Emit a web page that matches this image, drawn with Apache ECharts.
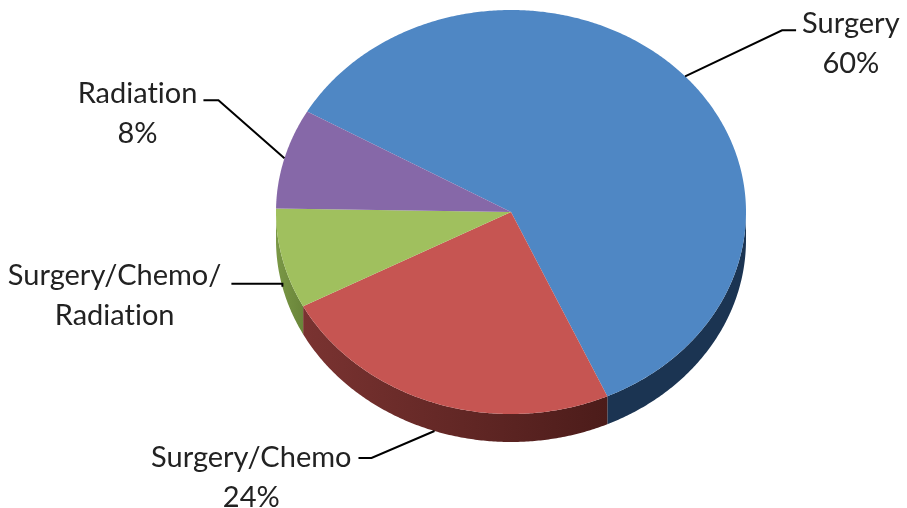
<!DOCTYPE html>
<html>
<head>
<meta charset="utf-8">
<script src="https://cdn.jsdelivr.net/npm/echarts@6/dist/echarts.min.js"></script>
<style>
  html, body { margin: 0; padding: 0; background: #fff; }
  #chart { width: 907px; height: 508px; }
</style>
</head>
<body>
<div id="chart"></div>
<script>
// data
const categories = ['Surgery', 'Surgery/Chemo', 'Surgery/Chemo/\nRadiation', 'Radiation'];
const values = [60, 24, 8, 8];
const showPercent = [true, true, false, true];

// look
const topColors = ['#4F87C4', '#C65552', '#A0C05E', '#8668A8'];
const sideColors = [['#1B3452', '#1B3452'], ['#7A3331', '#4C1C1A'], ['#7A9846', '#6A853A'], ['#5A4577', '#5A4577']];
const FONT = '29px Lato';

// geometry of the tilted pie
const cx = 511, cy = 212, rx = 235, ry = 202, depth = 28;
const startDeg = 209.8; // screen angle, clockwise

// label leaders: elbow offset from anchor, horizontal tail, gap to text, first line middle offset
const leaders = [
  { elbow: [97, -46], tail: 14, gap: 6, mid: -7 },
  { elbow: [-63, 27], tail: -13, gap: 7, mid: 0 },
  { elbow: [0, -3], tail: -51, gap: 10, mid: -8 },
  { elbow: [-66, -58], tail: -15, gap: 6, mid: -7 }
];

const total = values.reduce((a, b) => a + b, 0);
const starts = [];
let acc = startDeg * Math.PI / 180;
values.forEach(v => { starts.push(acc); acc += v / total * Math.PI * 2; });

const ctx = document.createElement('canvas').getContext('2d');
ctx.font = FONT;

function pt(a, dy) {
  return [cx + rx * Math.cos(a), cy + ry * Math.sin(a) + (dy || 0)];
}

function arc(a0, a1, dy) {
  const pts = [];
  const n = Math.max(2, Math.ceil(Math.abs(a1 - a0) / (Math.PI / 360)));
  for (let k = 0; k <= n; k++) pts.push(pt(a0 + (a1 - a0) * k / n, dy));
  return pts;
}

function renderItem(params, api) {
  const i = params.dataIndex;
  const a0 = starts[i];
  const a1 = a0 + api.value(0) / total * Math.PI * 2;
  const children = [];

  // side wall, only the front half of the rim shows
  [0, 2 * Math.PI].forEach(base => {
    const s = Math.max(a0, base), e = Math.min(a1, base + Math.PI);
    if (e > s) {
      const pts = arc(s, e, 0).concat(arc(e, s, depth));
      children.push({
        type: 'polygon',
        z2: 1,
        shape: { points: pts },
        style: {
          fill: new echarts.graphic.LinearGradient(0, 0, 1, 0, [
            { offset: 0, color: sideColors[i][0] },
            { offset: 1, color: sideColors[i][1] }
          ])
        }
      });
    }
  });

  // top face
  children.push({
    type: 'polygon',
    z2: 5,
    shape: { points: [[cx, cy]].concat(arc(a0, a1, 0)) },
    style: { fill: topColors[i] }
  });

  // label with leader line
  const mid = (a0 + a1) / 2;
  const anchor = pt(mid, Math.sin(mid) > 0 ? depth : 0);
  const L = leaders[i];
  const elbow = [anchor[0] + L.elbow[0], anchor[1] + L.elbow[1]];
  const end = [elbow[0] + L.tail, elbow[1]];
  children.push({
    type: 'polyline',
    z2: 10,
    shape: { points: [anchor, elbow, end] },
    style: { stroke: '#000', lineWidth: 2, fill: null }
  });
  let text = categories[i];
  if (showPercent[i]) text += '\n' + Math.round(api.value(0) / total * 100) + '%';
  // keep Lato from fusing "ti" into a ligature (Calibri in the original has none)
  text = text.replace(/ti/g, 't\u200Ci');
  const w = Math.max(...text.split('\n').map(s => ctx.measureText(s).width));
  const dir = L.tail >= 0 ? 1 : -1;
  const centerX = end[0] + dir * (L.gap + w / 2);
  children.push({
    type: 'text',
    z2: 10,
    x: centerX,
    y: end[1] + L.mid - 20,
    style: {
      text: text,
      font: FONT,
      fill: '#222',
      align: 'center',
      verticalAlign: 'top',
      lineHeight: 40
    }
  });

  return { type: 'group', children: children };
}

const chart = echarts.init(document.getElementById('chart'));
chart.setOption({
  animation: false,
  series: [{
    type: 'custom',
    coordinateSystem: 'none',
    renderItem: renderItem,
    data: values.map((v, i) => ({ name: categories[i], value: v }))
  }]
});
</script>
</body>
</html>
